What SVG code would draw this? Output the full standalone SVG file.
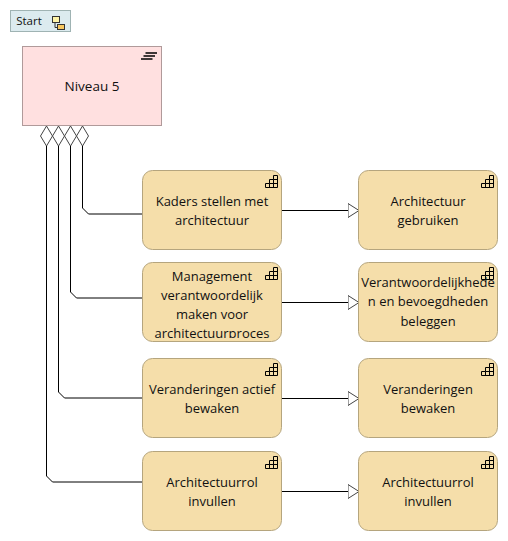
<svg xmlns="http://www.w3.org/2000/svg" width="508" height="541" viewBox="0 0 508 541">
<style>
text{font-family:"Open Sans","Noto Sans","Liberation Sans",sans-serif;font-size:13px;fill:#111;text-anchor:middle}
.cap{fill:#f5deaa;stroke:#b5a57e;stroke-width:1}
.line{fill:none;stroke:#000;stroke-width:1}
.dia{fill:#fff;stroke:#444;stroke-width:1}
.ico{fill:none;stroke:#000;stroke-width:1}
</style>
<defs>
<marker id="tri" markerUnits="userSpaceOnUse" markerWidth="13" markerHeight="16" refX="11.500" refY="7.500" orient="auto"><path d="M0.500 0.500L11.500 7.500L0.500 14.500Z" fill="#fff" stroke="#444"/></marker>
<g id="stair"><path class="ico" d="M0.500 12.500H12.500V0.500H8.500V4.500H4.500V8.500H0.500ZM4.500 8.500V12.500M8.500 4.500V12.500M4.500 8.500H12.500M8.500 4.500H12.500"/></g>
<clipPath id="c2"><rect x="143" y="263" width="138" height="75"/></clipPath>
</defs>
<g id="connectors">
<path class="line" d="M82.500 146V208L88.500 214H142"/>
<path class="line" d="M70.500 146V292L76.500 298H142"/>
<path class="line" d="M58.500 146V392L64.500 398H142"/>
<path class="line" d="M46.500 146V476L52.500 482H142"/>
<path class="line" marker-end="url(#tri)" d="M282 210.500H359"/>
<path class="line" marker-end="url(#tri)" d="M282 302.500H359"/>
<path class="line" marker-end="url(#tri)" d="M282 398.500H359"/>
<path class="line" marker-end="url(#tri)" d="M282 491.500H359"/>
</g>
<g id="start">
<rect x="10.500" y="10.500" width="60" height="21" fill="#dcebef" stroke="#9fb3b3"/>
<text x="29" y="25" style="font-size:11.500px">Start</text>
<rect x="52.500" y="16.500" width="7" height="6" fill="#fdf3a8" stroke="#333"/>
<path d="M55 22.500V27.500H57" fill="none" stroke="#333"/>
<rect x="57.500" y="24.500" width="7" height="5" fill="#f8c860" stroke="#333"/>
</g>
<g id="niveau5">
<path class="dia" d="M46.500 126L52.500 136L46.500 146L40.500 136Z"/>
<path class="dia" d="M58.500 126L64.500 136L58.500 146L52.500 136Z"/>
<path class="dia" d="M70.500 126L76.500 136L70.500 146L64.500 136Z"/>
<path class="dia" d="M82.500 126L88.500 136L82.500 146L76.500 136Z"/>
<rect x="22.500" y="46.500" width="139" height="79" fill="#ffe0e0" stroke="#b09a9a"/>
<path d="M145.500 53H157M143.500 56H155M141 59H152.500" fill="none" stroke="#000" stroke-width="1.600"/>
<text x="92" y="91" style="font-size:13.500px">Niveau 5</text>
</g>
<g id="n1"><rect class="cap" x="142.500" y="170.500" width="139" height="79" rx="10"/><use href="#stair" x="265" y="175"/><text x="212" y="206">Kaders stellen met</text><text x="212" y="225">architectuur</text></g>
<g id="n2"><rect class="cap" x="142.500" y="262.500" width="139" height="79" rx="10"/><use href="#stair" x="265" y="267"/><g clip-path="url(#c2)"><text x="212" y="281">Management</text><text x="212" y="300">verantwoordelijk</text><text x="212" y="319">maken voor</text><text x="212" y="338">architectuurproces</text></g></g>
<g id="n3"><rect class="cap" x="142.500" y="358.500" width="139" height="79" rx="10"/><use href="#stair" x="265" y="363"/><text x="212" y="394">Veranderingen actief</text><text x="212" y="413">bewaken</text></g>
<g id="n4"><rect class="cap" x="142.500" y="451.500" width="139" height="79" rx="10"/><use href="#stair" x="265" y="456"/><text x="212" y="487">Architectuurrol</text><text x="212" y="506">invullen</text></g>
<g id="m1"><rect class="cap" x="358.500" y="170.500" width="139" height="79" rx="10"/><use href="#stair" x="481" y="175"/><text x="428" y="206">Architectuur</text><text x="428" y="225">gebruiken</text></g>
<g id="m2"><rect class="cap" x="358.500" y="262.500" width="139" height="79" rx="10"/><use href="#stair" x="481" y="267"/><text x="428" y="287">Verantwoordelijkhede</text><text x="428" y="306">n en bevoegdheden</text><text x="428" y="326">beleggen</text></g>
<g id="m3"><rect class="cap" x="358.500" y="358.500" width="139" height="79" rx="10"/><use href="#stair" x="481" y="363"/><text x="428" y="394">Veranderingen</text><text x="428" y="413">bewaken</text></g>
<g id="m4"><rect class="cap" x="358.500" y="451.500" width="139" height="79" rx="10"/><use href="#stair" x="481" y="456"/><text x="428" y="487">Architectuurrol</text><text x="428" y="506">invullen</text></g>
</svg>
